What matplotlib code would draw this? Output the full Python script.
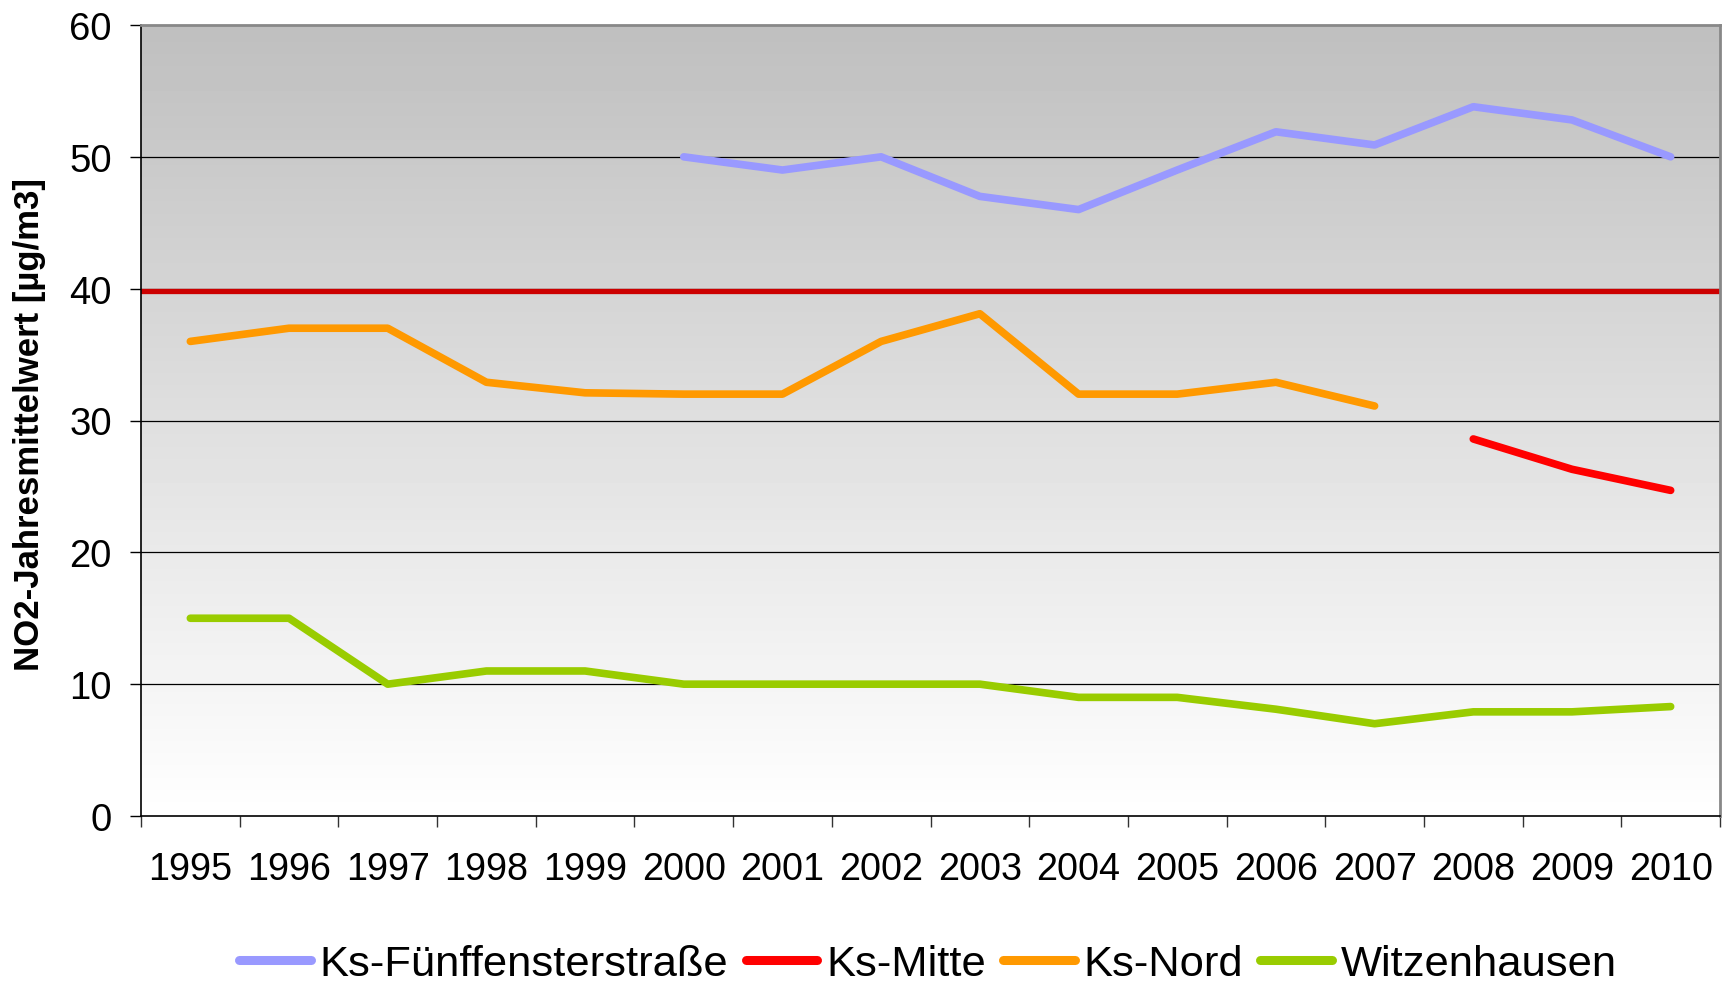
import numpy as np
import matplotlib
matplotlib.use("Agg")
import matplotlib.pyplot as plt

plt.rcParams['font.family'] = ['Liberation Sans', 'DejaVu Sans']

years = [str(y) for y in range(1995, 2011)]
nan = np.nan

# NO2 annual means [µg/m3]
fuenffenster = [nan, nan, nan, nan, nan, 50.0, 49.0, 50.0, 47.0, 46.0, 49.0, 51.9, 50.9, 53.8, 52.8, 50.0]
mitte = [nan] * 13 + [28.6, 26.3, 24.7]
nord = [36.0, 37.0, 37.0, 32.9, 32.1, 32.0, 32.0, 36.0, 38.1, 32.0, 32.0, 32.9, 31.1, nan, nan, nan]
witzenhausen = [15.0, 15.0, 10.0, 11.0, 11.0, 10.0, 10.0, 10.0, 10.0, 9.0, 9.0, 8.1, 7.0, 7.9, 7.9, 8.3]
limit_value = 39.8

series = [
    ("Ks-Fünffensterstraße", fuenffenster, "#9999FF"),
    ("Ks-Mitte", mitte, "#FF0000"),
    ("Ks-Nord", nord, "#FF9900"),
    ("Witzenhausen", witzenhausen, "#99CC00"),
]

fig = plt.figure(figsize=(17.22, 9.87), dpi=100)
ax = fig.add_axes([141 / 1722, 170 / 987, 1579 / 1722, 791 / 987])

x = np.arange(len(years))
xmin, xmax = -0.5, len(years) - 0.5

# grey-to-white background gradient
grad = np.linspace(0.749, 1.0, 256).reshape(-1, 1)
ax.imshow(grad, cmap="gray", vmin=0, vmax=1, extent=[xmin, xmax, 0, 60],
          aspect="auto", origin="upper", zorder=0, interpolation="bilinear")

for yv in range(10, 60, 10):
    ax.axhline(yv, color="black", lw=0.9, zorder=1)

ax.axhline(limit_value, color="#CC0000", lw=3.8, zorder=2)

for name, vals, col in series:
    ax.plot(x, np.array(vals, dtype=float), color=col, lw=5.5, label=name,
            solid_capstyle="round", solid_joinstyle="round", zorder=3)

ax.set_xlim(xmin, xmax)
ax.set_ylim(0, 60)
ax.set_yticks(range(0, 61, 10))
ax.tick_params(axis="y", direction="out", length=8, width=1, pad=13, labelsize=27.5)

ax.set_xticks(np.arange(xmin, xmax + 0.1, 1.0))
ax.set_xticklabels([])
ax.set_xticks(x, minor=True)
ax.set_xticklabels(years, minor=True)
ax.tick_params(axis="x", which="major", direction="out", length=8, width=1, color="#333333")
ax.tick_params(axis="x", which="minor", length=0, pad=25, labelsize=27.2)

for s in ["left", "bottom"]:
    ax.spines[s].set_color("black")
    ax.spines[s].set_linewidth(1.2)
for s in ["top", "right"]:
    ax.spines[s].set_color("#888888")
    ax.spines[s].set_linewidth(2.0)

fig.text(30 / 1722, 1 - 425 / 987, "NO2-Jahresmittelwert [µg/m3]", rotation=90,
         ha="center", va="center", fontsize=25, fontweight="bold")

handles, labels = ax.get_legend_handles_labels()
leg = fig.legend(handles, labels, loc="center", bbox_to_anchor=(928 / 1722, 22 / 987),
                 ncol=4, frameon=False, fontsize=31.3, handlelength=1.65,
                 handletextpad=0.2, columnspacing=0.4, borderaxespad=0)
for h in leg.get_lines():
    h.set_linewidth(6.5)

fig.savefig("out.png", dpi=100)
